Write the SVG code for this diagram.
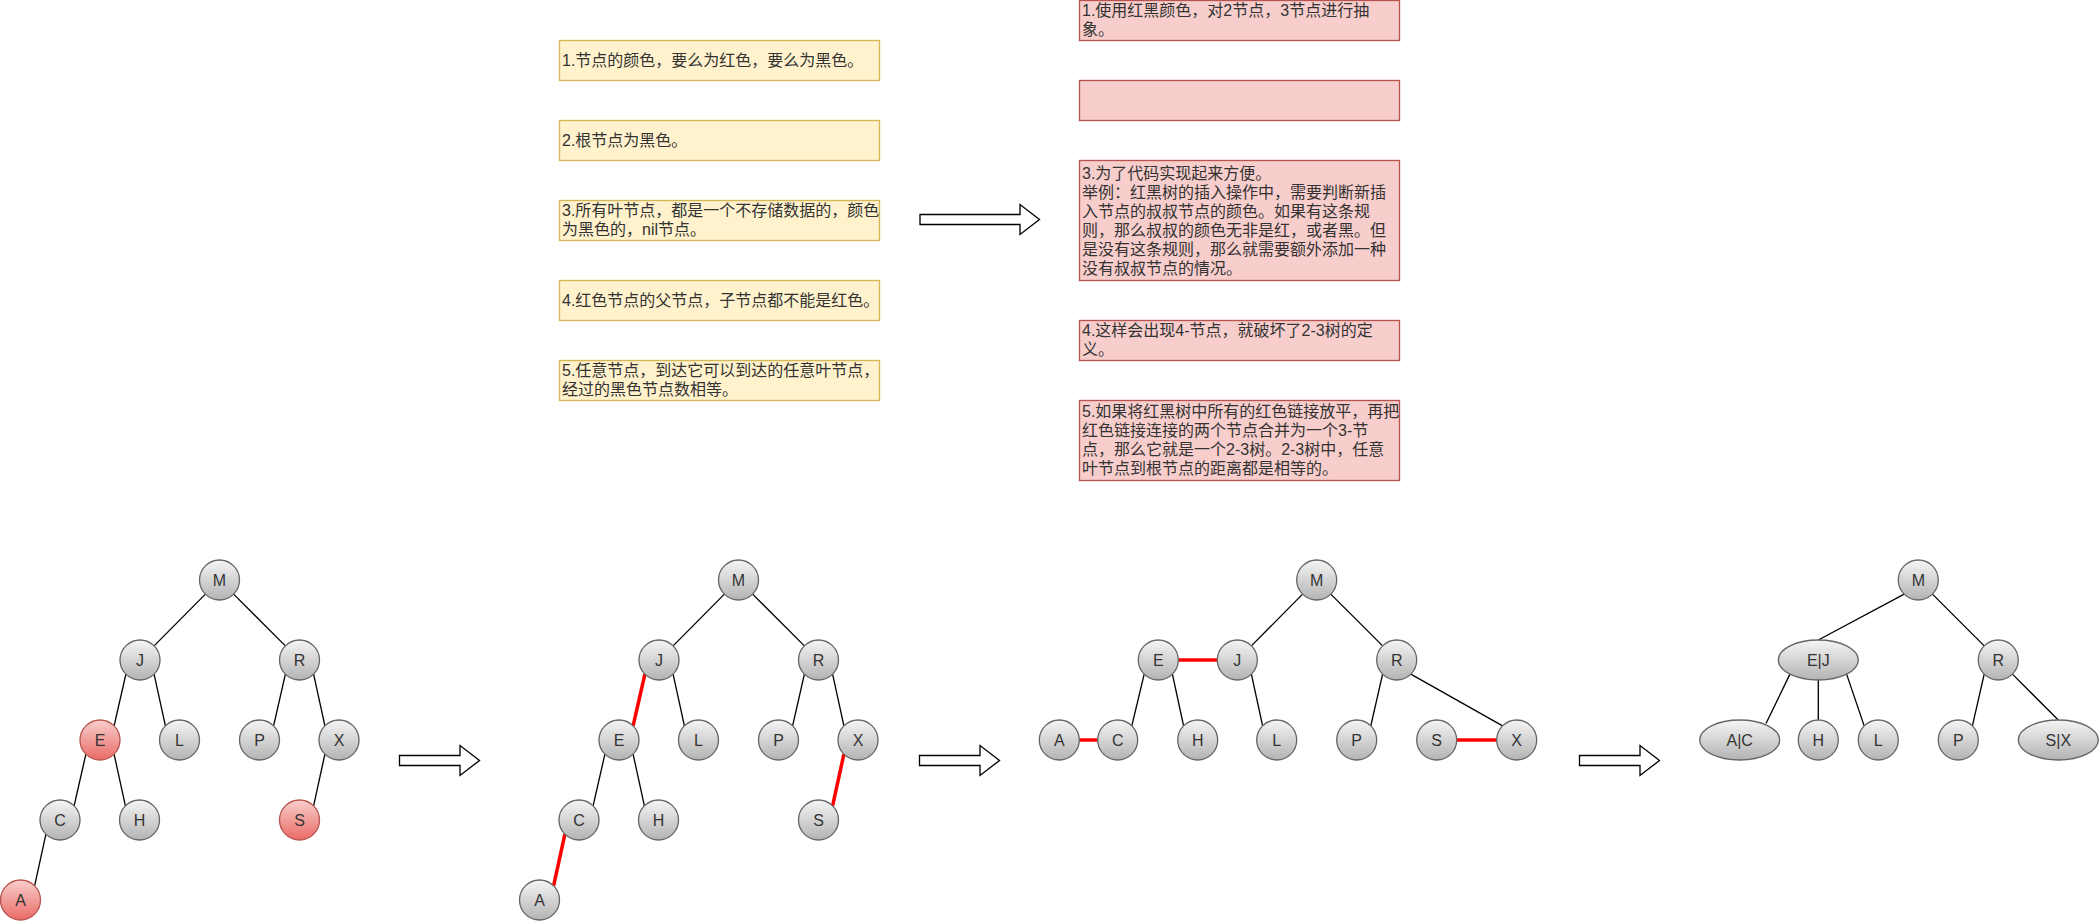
<svg xmlns="http://www.w3.org/2000/svg" width="2099" height="922" viewBox="0 0 2099 922">
  <defs>
    <linearGradient id="gGray" x1="0" y1="0" x2="0" y2="1">
      <stop offset="0" stop-color="#f5f5f5"/>
      <stop offset="1" stop-color="#b3b3b3"/>
    </linearGradient>
    <linearGradient id="gRed" x1="0" y1="0" x2="0" y2="1">
      <stop offset="0" stop-color="#f8cecc"/>
      <stop offset="1" stop-color="#ea6b66"/>
    </linearGradient>
    <style>
      .n { fill: url(#gGray); stroke: #666666; stroke-width: 1.33; }
      .rn { fill: url(#gRed); stroke: #b85450; stroke-width: 1.33; }
      .lbl { font-family: "Liberation Sans", "Noto Sans CJK SC", sans-serif; font-size: 16px; fill: #333333; text-anchor: middle; }
      .t { font-family: "Liberation Sans", "Noto Sans CJK SC", sans-serif; font-size: 16px; fill: #333333; }
      .noteY { fill: #fff2cc; stroke: #d6b656; stroke-width: 1.33; }
      .noteR { fill: #f8cecc; stroke: #b85450; stroke-width: 1.33; }
      .e { stroke: #000000; stroke-width: 1.33; fill: none; }
      .re { stroke: #ff0000; stroke-width: 3.5; fill: none; }
      .arrow { fill: #ffffff; stroke: #000000; stroke-width: 1.33; stroke-linejoin: miter; }
    </style>
  </defs>

  <rect width="2099" height="922" fill="#ffffff"/>

  <!-- red-black tree rules -->
  <g id="rule1">
    <rect class="noteY" x="559.5" y="40.5" width="320" height="40"/>
    <text class="t" x="562" y="65.7">1.节点的颜色，要么为红色，要么为黑色。</text>
  </g>
  <g id="rule2">
    <rect class="noteY" x="559.5" y="120.5" width="320" height="40"/>
    <text class="t" x="562" y="145.7">2.根节点为黑色。</text>
  </g>
  <g id="rule3">
    <rect class="noteY" x="559.5" y="200.5" width="320" height="40"/>
    <text class="t" x="562"><tspan x="562" y="216.2">3.所有叶节点，都是一个不存储数据的，颜色</tspan><tspan x="562" y="235.2">为黑色的，nil节点。</tspan></text>
  </g>
  <g id="rule4">
    <rect class="noteY" x="559.5" y="280.5" width="320" height="40"/>
    <text class="t" x="562" y="305.7">4.红色节点的父节点，子节点都不能是红色。</text>
  </g>
  <g id="rule5">
    <rect class="noteY" x="559.5" y="360.5" width="320" height="40"/>
    <text class="t" x="562"><tspan x="562" y="376.2">5.任意节点，到达它可以到达的任意叶节点，</tspan><tspan x="562" y="395.2">经过的黑色节点数相等。</tspan></text>
  </g>

  <!-- explanations -->
  <g id="note1">
    <rect class="noteR" x="1079.5" y="0.5" width="320" height="40"/>
    <text class="t"><tspan x="1082" y="16.2">1.使用红黑颜色，对2节点，3节点进行抽</tspan><tspan x="1082" y="35.2">象。</tspan></text>
  </g>
  <g id="note2">
    <rect class="noteR" x="1079.5" y="80.5" width="320" height="40"/>
  </g>
  <g id="note3">
    <rect class="noteR" x="1079.5" y="160.5" width="320" height="120"/>
    <text class="t">
      <tspan x="1082" y="178.7">3.为了代码实现起来方便。</tspan>
      <tspan x="1082" y="197.7">举例：红黑树的插入操作中，需要判断新插</tspan>
      <tspan x="1082" y="216.7">入节点的叔叔节点的颜色。如果有这条规</tspan>
      <tspan x="1082" y="235.7">则，那么叔叔的颜色无非是红，或者黑。但</tspan>
      <tspan x="1082" y="254.7">是没有这条规则，那么就需要额外添加一种</tspan>
      <tspan x="1082" y="273.7">没有叔叔节点的情况。</tspan>
    </text>
  </g>
  <g id="note4">
    <rect class="noteR" x="1079.5" y="320.5" width="320" height="40"/>
    <text class="t"><tspan x="1082" y="336.2">4.这样会出现4-节点，就破坏了2-3树的定</tspan><tspan x="1082" y="355.2">义。</tspan></text>
  </g>
  <g id="note5">
    <rect class="noteR" x="1079.5" y="400.5" width="320" height="80"/>
    <text class="t">
      <tspan x="1082" y="417.2">5.如果将红黑树中所有的红色链接放平，再把</tspan>
      <tspan x="1082" y="436.2">红色链接连接的两个节点合并为一个3-节</tspan>
      <tspan x="1082" y="455.2">点，那么它就是一个2-3树。2-3树中，任意</tspan>
      <tspan x="1082" y="474.2">叶节点到根节点的距离都是相等的。</tspan>
    </text>
  </g>

  <!-- block arrows -->
  <g id="arrows">
    <path class="arrow" d="M920,214.5 H1020 V204.5 L1039.5,219.5 L1020,234.5 V224.5 H920 Z"/>
    <path class="arrow" d="M399.5,755.5 H460 V745.5 L479.5,760.5 L460,775.5 V765.5 H399.5 Z"/>
    <path class="arrow" d="M919.5,755.5 H980 V745.5 L999.5,760.5 L980,775.5 V765.5 H919.5 Z"/>
    <path class="arrow" d="M1579.5,755.5 H1640 V745.5 L1659.5,760.5 L1640,775.5 V765.5 H1579.5 Z"/>
  </g>

  <!-- tree edges -->
  <g id="connectors">
    <!-- tree 1 -->
    <line class="e" x1="205.4" y1="594.1" x2="154.1" y2="645.9"/>
    <line class="e" x1="233.6" y1="594.1" x2="285.4" y2="645.9"/>
    <line class="e" x1="125.9" y1="674.1" x2="114.1" y2="725.9"/>
    <line class="e" x1="154.1" y1="674.1" x2="165.4" y2="725.9"/>
    <line class="e" x1="285.4" y1="674.1" x2="273.6" y2="725.9"/>
    <line class="e" x1="313.6" y1="674.1" x2="324.9" y2="725.9"/>
    <line class="e" x1="85.9" y1="754.1" x2="74.1" y2="805.9"/>
    <line class="e" x1="114.1" y1="754.1" x2="125.4" y2="805.9"/>
    <line class="e" x1="324.9" y1="754.1" x2="313.6" y2="805.9"/>
    <line class="e" x1="45.9" y1="834.1" x2="34.6" y2="885.9"/>
    <!-- tree 2 -->
    <line class="e" x1="724.4" y1="594.1" x2="673.1" y2="645.9"/>
    <line class="e" x1="752.6" y1="594.1" x2="804.4" y2="645.9"/>
    <line class="re" x1="644.9" y1="674.1" x2="633.1" y2="725.9"/>
    <line class="e" x1="673.1" y1="674.1" x2="684.4" y2="725.9"/>
    <line class="e" x1="804.4" y1="674.1" x2="792.6" y2="725.9"/>
    <line class="e" x1="832.6" y1="674.1" x2="843.9" y2="725.9"/>
    <line class="e" x1="604.9" y1="754.1" x2="593.1" y2="805.9"/>
    <line class="e" x1="633.1" y1="754.1" x2="644.4" y2="805.9"/>
    <line class="re" x1="843.9" y1="754.1" x2="832.6" y2="805.9"/>
    <line class="re" x1="564.9" y1="834.1" x2="553.6" y2="885.9"/>
    <!-- tree 3 -->
    <line class="e" x1="1302.6" y1="594.1" x2="1251.4" y2="645.9"/>
    <line class="e" x1="1330.8" y1="594.1" x2="1382.6" y2="645.9"/>
    <line class="re" x1="1178.3" y1="660" x2="1217.3" y2="660"/>
    <line class="e" x1="1144.2" y1="674.1" x2="1131.8" y2="725.9"/>
    <line class="e" x1="1172.4" y1="674.1" x2="1183.6" y2="725.9"/>
    <line class="e" x1="1251.4" y1="674.1" x2="1262.6" y2="725.9"/>
    <line class="e" x1="1382.6" y1="674.1" x2="1370.8" y2="725.9"/>
    <line class="e" x1="1410.8" y1="674.1" x2="1502.6" y2="725.9"/>
    <line class="re" x1="1079.3" y1="740" x2="1097.7" y2="740"/>
    <line class="re" x1="1456.7" y1="740" x2="1496.7" y2="740"/>
    <!-- tree 4 -->
    <line class="e" x1="1904.2" y1="594.1" x2="1818.3" y2="640"/>
    <line class="e" x1="1932.4" y1="594.1" x2="1984.2" y2="645.9"/>
    <line class="e" x1="1790" y1="674.1" x2="1766" y2="723.5"/>
    <line class="e" x1="1818.3" y1="680" x2="1818.3" y2="720"/>
    <line class="e" x1="1846.6" y1="674.1" x2="1864.2" y2="725.9"/>
    <line class="e" x1="1984.2" y1="674.1" x2="1972.4" y2="725.9"/>
    <line class="e" x1="2012.4" y1="674.1" x2="2058.3" y2="720"/>
  </g>

  <!-- tree 1 nodes -->
  <g id="t1-M"><circle class="n" cx="219.5" cy="580" r="20"/><text class="lbl" x="219.5" y="585.7">M</text></g>
  <g id="t1-J"><circle class="n" cx="140" cy="660" r="20"/><text class="lbl" x="140" y="665.7">J</text></g>
  <g id="t1-R"><circle class="n" cx="299.5" cy="660" r="20"/><text class="lbl" x="299.5" y="665.7">R</text></g>
  <g id="t1-E"><circle class="rn" cx="100" cy="740" r="20"/><text class="lbl" x="100" y="745.7">E</text></g>
  <g id="t1-L"><circle class="n" cx="179.5" cy="740" r="20"/><text class="lbl" x="179.5" y="745.7">L</text></g>
  <g id="t1-P"><circle class="n" cx="259.5" cy="740" r="20"/><text class="lbl" x="259.5" y="745.7">P</text></g>
  <g id="t1-X"><circle class="n" cx="339" cy="740" r="20"/><text class="lbl" x="339" y="745.7">X</text></g>
  <g id="t1-C"><circle class="n" cx="60" cy="820" r="20"/><text class="lbl" x="60" y="825.7">C</text></g>
  <g id="t1-H"><circle class="n" cx="139.5" cy="820" r="20"/><text class="lbl" x="139.5" y="825.7">H</text></g>
  <g id="t1-S"><circle class="rn" cx="299.5" cy="820" r="20"/><text class="lbl" x="299.5" y="825.7">S</text></g>
  <g id="t1-A"><circle class="rn" cx="20.5" cy="900" r="20"/><text class="lbl" x="20.5" y="905.7">A</text></g>

  <!-- tree 2 nodes -->
  <g id="t2-M"><circle class="n" cx="738.5" cy="580" r="20"/><text class="lbl" x="738.5" y="585.7">M</text></g>
  <g id="t2-J"><circle class="n" cx="659" cy="660" r="20"/><text class="lbl" x="659" y="665.7">J</text></g>
  <g id="t2-R"><circle class="n" cx="818.5" cy="660" r="20"/><text class="lbl" x="818.5" y="665.7">R</text></g>
  <g id="t2-E"><circle class="n" cx="619" cy="740" r="20"/><text class="lbl" x="619" y="745.7">E</text></g>
  <g id="t2-L"><circle class="n" cx="698.5" cy="740" r="20"/><text class="lbl" x="698.5" y="745.7">L</text></g>
  <g id="t2-P"><circle class="n" cx="778.5" cy="740" r="20"/><text class="lbl" x="778.5" y="745.7">P</text></g>
  <g id="t2-X"><circle class="n" cx="858" cy="740" r="20"/><text class="lbl" x="858" y="745.7">X</text></g>
  <g id="t2-C"><circle class="n" cx="579" cy="820" r="20"/><text class="lbl" x="579" y="825.7">C</text></g>
  <g id="t2-H"><circle class="n" cx="658.5" cy="820" r="20"/><text class="lbl" x="658.5" y="825.7">H</text></g>
  <g id="t2-S"><circle class="n" cx="818.5" cy="820" r="20"/><text class="lbl" x="818.5" y="825.7">S</text></g>
  <g id="t2-A"><circle class="n" cx="539.5" cy="900" r="20"/><text class="lbl" x="539.5" y="905.7">A</text></g>

  <!-- tree 3 nodes -->
  <g id="t3-M"><circle class="n" cx="1316.7" cy="580" r="20"/><text class="lbl" x="1316.7" y="585.7">M</text></g>
  <g id="t3-E"><circle class="n" cx="1158.3" cy="660" r="20"/><text class="lbl" x="1158.3" y="665.7">E</text></g>
  <g id="t3-J"><circle class="n" cx="1237.3" cy="660" r="20"/><text class="lbl" x="1237.3" y="665.7">J</text></g>
  <g id="t3-R"><circle class="n" cx="1396.7" cy="660" r="20"/><text class="lbl" x="1396.7" y="665.7">R</text></g>
  <g id="t3-A"><circle class="n" cx="1059.3" cy="740" r="20"/><text class="lbl" x="1059.3" y="745.7">A</text></g>
  <g id="t3-C"><circle class="n" cx="1117.7" cy="740" r="20"/><text class="lbl" x="1117.7" y="745.7">C</text></g>
  <g id="t3-H"><circle class="n" cx="1197.7" cy="740" r="20"/><text class="lbl" x="1197.7" y="745.7">H</text></g>
  <g id="t3-L"><circle class="n" cx="1276.7" cy="740" r="20"/><text class="lbl" x="1276.7" y="745.7">L</text></g>
  <g id="t3-P"><circle class="n" cx="1356.7" cy="740" r="20"/><text class="lbl" x="1356.7" y="745.7">P</text></g>
  <g id="t3-S"><circle class="n" cx="1436.7" cy="740" r="20"/><text class="lbl" x="1436.7" y="745.7">S</text></g>
  <g id="t3-X"><circle class="n" cx="1516.7" cy="740" r="20"/><text class="lbl" x="1516.7" y="745.7">X</text></g>

  <!-- tree 4 nodes (2-3 tree) -->
  <g id="t4-M"><circle class="n" cx="1918.3" cy="580" r="20"/><text class="lbl" x="1918.3" y="585.7">M</text></g>
  <g id="t4-EJ"><ellipse class="n" cx="1818.3" cy="660" rx="40" ry="20"/><text class="lbl" x="1818.3" y="665.7">E|J</text></g>
  <g id="t4-R"><circle class="n" cx="1998.3" cy="660" r="20"/><text class="lbl" x="1998.3" y="665.7">R</text></g>
  <g id="t4-AC"><ellipse class="n" cx="1739.7" cy="740" rx="40" ry="20"/><text class="lbl" x="1739.7" y="745.7">A|C</text></g>
  <g id="t4-H"><circle class="n" cx="1818.3" cy="740" r="20"/><text class="lbl" x="1818.3" y="745.7">H</text></g>
  <g id="t4-L"><circle class="n" cx="1878.3" cy="740" r="20"/><text class="lbl" x="1878.3" y="745.7">L</text></g>
  <g id="t4-P"><circle class="n" cx="1958.3" cy="740" r="20"/><text class="lbl" x="1958.3" y="745.7">P</text></g>
  <g id="t4-SX"><ellipse class="n" cx="2058.3" cy="740" rx="40" ry="20"/><text class="lbl" x="2058.3" y="745.7">S|X</text></g>
</svg>
